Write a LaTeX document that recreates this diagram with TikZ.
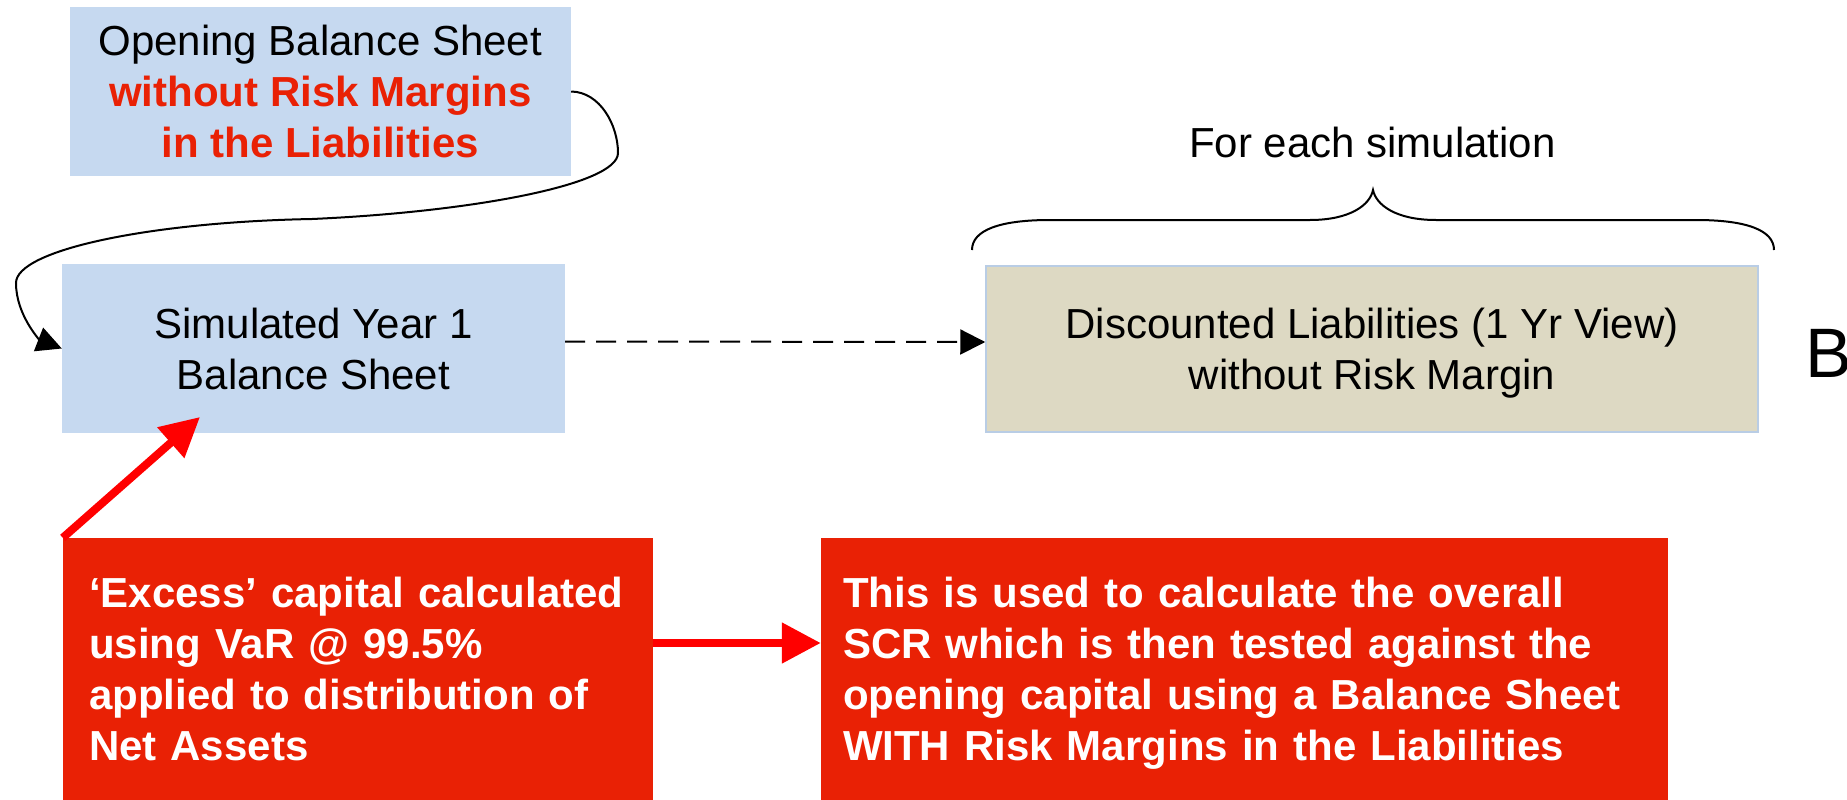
\documentclass[tikz,border=0pt]{standalone}
\usepackage{fontspec}
\setmainfont{Liberation Sans}
\usetikzlibrary{arrows.meta,calc}
\definecolor{boxblue}{RGB}{198,217,240}
\definecolor{boxtan}{RGB}{221,217,195}
\definecolor{tanedge}{RGB}{185,205,229}
\definecolor{boxred}{RGB}{233,33,5}
\definecolor{arrred}{RGB}{255,0,0}
\begin{document}
\begin{tikzpicture}[x=1pt,y=-1pt,
  txt/.style={font=\fontsize{42}{51}\selectfont},
  bluebox/.style={txt,fill=boxblue,draw=none,inner sep=0pt,align=center},
  tanbox/.style={txt,fill=boxtan,draw=tanedge,line width=1.5pt,inner sep=0pt,align=center},
  redbox/.style={txt,fill=boxred,draw=none,text=white,align=left,inner ysep=0pt},
  conn/.style={line width=2pt,-{Triangle[length=25pt,width=25pt]}},
  redarrow/.style={arrred,line width=8pt,-{Triangle[length=39pt,width=39pt]}}]
\useasboundingbox (0,0) rectangle (1847,800);

\node[bluebox,minimum width=501.5pt,minimum height=169pt] (open) at (320.25,91.5)
  {Opening Balance Sheet\\
   \textcolor{boxred}{\bfseries without Risk Margins}\\
   \textcolor{boxred}{\bfseries in the Liabilities}};

\node[bluebox,minimum width=503pt,minimum height=169pt] (sim) at (313.5,348.5)
  {Simulated Year 1\\ Balance Sheet};

\node[tanbox,minimum width=772pt,minimum height=166pt] (disc) at (1372,349)
  {Discounted Liabilities (1 Yr View)\\ \smash{without Risk Margin}};

\node[txt,anchor=base,inner sep=0pt] (fes) at (1372.5,157) {For each simulation};

\node[anchor=base west,inner sep=0pt,font=\fontsize{70}{84}\selectfont] (bb) at (1805,377) {B};

\node[redbox,minimum width=590pt,minimum height=262pt,inner xsep=26pt,text width=538pt] (ex) at (358,669)
  {\bfseries ‘Excess’ capital calculated\\
   using VaR @ 99.5\%\\
   applied to distribution of\\
   Net Assets};

\node[redbox,minimum width=847pt,minimum height=262pt,inner xsep=22pt,text width=803pt] (scr) at (1244.5,669)
  {\bfseries This is used to calculate the overall\\
   SCR which is then tested against the\\
   opening capital using a Balance Sheet\\
   \smash{WITH Risk Margins in the Liabilities}};

% brace over the discounted liabilities box
\draw[line width=2pt] (972,250) .. controls (972,230) and (1000,220) .. (1050,220)
  -- (1310,220) .. controls (1350,220) and (1370,205) .. (1373,190)
  .. controls (1376,205) and (1396,220) .. (1436,220)
  -- (1696,220) .. controls (1746,220) and (1774,230) .. (1774,250);

% connectors
\draw[conn] (open.east) .. controls (600,92) and (618,125) .. (618,153)
  .. controls (618,185) and (470,212) .. (312,219)
  .. controls (150,222) and (16,250) .. (16,283)
  .. controls (16,315) and (40,340) .. (sim.west);

\draw[conn,dash pattern=on 20pt off 11pt] ([yshift=7pt]sim.east) -- ([yshift=7pt]disc.west);

\coordinate (tip1) at (200,417);
\draw[redarrow] (ex.north west) -- (tip1);

\draw[redarrow] ([yshift=26pt]ex.east) -- ([yshift=26pt]scr.west);
\end{tikzpicture}
\end{document}
